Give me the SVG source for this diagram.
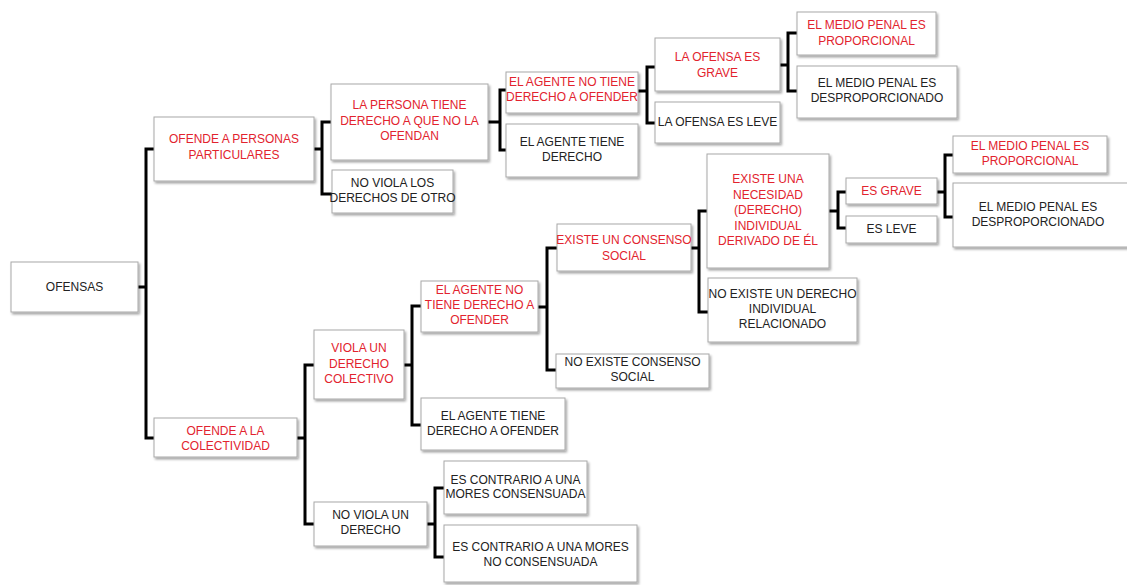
<svg xmlns="http://www.w3.org/2000/svg" width="1127" height="585" viewBox="0 0 1127 585">
<style>
.b{fill:#fff;stroke:#a8a8a8;stroke-width:1;filter:url(#sh)}
text{font-family:"Liberation Sans",Arial,sans-serif;font-size:12px;text-anchor:middle;fill:#222}
.r{fill:#e2232e}
.c{fill:none;stroke:#000;stroke-width:3;stroke-linejoin:miter;stroke-linecap:butt}
</style>
<defs>
<filter id="sh" x="-10%" y="-10%" width="130%" height="140%">
<feDropShadow dx="1.5" dy="2" stdDeviation="1.2" flood-color="#000" flood-opacity="0.35"/>
</filter>
</defs>
<rect width="1127" height="585" fill="#fff"/>
<g id="connectors">
<path class="c" d="M138,287H146M154,149H146V438H154"/>
<path class="c" d="M314,149H322M331,122H322V194H332"/>
<path class="c" d="M488,122H500M506,90H500V150H506"/>
<path class="c" d="M638,91H647M655,67H647V123H655"/>
<path class="c" d="M780,65H788M797,33H788V91H797"/>
<path class="c" d="M297,438H305M314,365H305V524H314"/>
<path class="c" d="M404,365H412M421,306H412V425H421"/>
<path class="c" d="M538,307H547M557,248H547V370H556"/>
<path class="c" d="M691,248H699M707,211H699V312H708"/>
<path class="c" d="M829,211H838M846,192H838V228H846"/>
<path class="c" d="M937,192H945M953,155H945V217H953"/>
<path class="c" d="M427,524H435M444,488H435V557H444"/>
</g>
<g id="n-ofensas"><rect class="b" x="11" y="262" width="127" height="50"/><text x="74.5" y="291">OFENSAS</text></g>
<g id="n-personas"><rect class="b" x="154" y="117" width="160" height="64"/><text class="r" x="234" y="143">OFENDE A PERSONAS</text><text class="r" x="234" y="159">PARTICULARES</text></g>
<g id="n-persona-tiene"><rect class="b" x="331" y="84" width="157" height="76"/><text class="r" x="409.5" y="109">LA PERSONA TIENE</text><text class="r" x="409.5" y="125">DERECHO A QUE NO LA</text><text class="r" x="409.5" y="140">OFENDAN</text></g>
<g id="n-no-viola-los"><rect class="b" x="332" y="170" width="121" height="43"/><text x="392.5" y="187">NO VIOLA LOS</text><text x="392.5" y="202">DERECHOS DE OTRO</text></g>
<g id="n-agente-no-1"><rect class="b" x="506" y="72" width="132" height="41"/><text class="r" x="572" y="86">EL AGENTE NO TIENE</text><text class="r" x="572" y="101">DERECHO A OFENDER</text></g>
<g id="n-agente-tiene-1"><rect class="b" x="506" y="124" width="132" height="53"/><text x="572" y="146">EL AGENTE TIENE</text><text x="572" y="161">DERECHO</text></g>
<g id="n-ofensa-grave"><rect class="b" x="655" y="38" width="125" height="53"/><text class="r" x="717.5" y="61">LA OFENSA ES</text><text class="r" x="717.5" y="77">GRAVE</text></g>
<g id="n-ofensa-leve"><rect class="b" x="655" y="102" width="125" height="41"/><text x="717.5" y="126">LA OFENSA ES LEVE</text></g>
<g id="n-prop-1"><rect class="b" x="797" y="12" width="139" height="43"/><text class="r" x="866.5" y="29">EL MEDIO PENAL ES</text><text class="r" x="866.5" y="45">PROPORCIONAL</text></g>
<g id="n-desprop-1"><rect class="b" x="797" y="66" width="160" height="52"/><text x="877" y="87">EL MEDIO PENAL ES</text><text x="877" y="102">DESPROPORCIONADO</text></g>
<g id="n-colectividad"><rect class="b" x="154" y="418" width="143" height="39"/><text class="r" x="225.5" y="435">OFENDE A LA</text><text class="r" x="225.5" y="450">COLECTIVIDAD</text></g>
<g id="n-viola-colectivo"><rect class="b" x="314" y="330" width="90" height="69"/><text class="r" x="359" y="352">VIOLA UN</text><text class="r" x="359" y="368">DERECHO</text><text class="r" x="359" y="383">COLECTIVO</text></g>
<g id="n-no-viola-un"><rect class="b" x="314" y="502" width="113" height="44"/><text x="370.5" y="519">NO VIOLA UN</text><text x="370.5" y="534">DERECHO</text></g>
<g id="n-agente-no-2"><rect class="b" x="421" y="281" width="117" height="51"/><text class="r" x="479.5" y="294">EL AGENTE NO</text><text class="r" x="479.5" y="309">TIENE DERECHO A</text><text class="r" x="479.5" y="324">OFENDER</text></g>
<g id="n-agente-tiene-2"><rect class="b" x="421" y="398" width="144" height="52"/><text x="493" y="420">EL AGENTE TIENE</text><text x="493" y="435">DERECHO A OFENDER</text></g>
<g id="n-consenso"><rect class="b" x="557" y="224" width="134" height="47"/><text class="r" x="624" y="244">EXISTE UN CONSENSO</text><text class="r" x="624" y="260">SOCIAL</text></g>
<g id="n-no-consenso"><rect class="b" x="556" y="354" width="153" height="34"/><text x="632.5" y="366">NO EXISTE CONSENSO</text><text x="632.5" y="381">SOCIAL</text></g>
<g id="n-necesidad"><rect class="b" x="707" y="154" width="122" height="114"/><text class="r" x="768" y="183">EXISTE UNA</text><text class="r" x="768" y="198.5">NECESIDAD</text><text class="r" x="768" y="214">(DERECHO)</text><text class="r" x="768" y="229.5">INDIVIDUAL</text><text class="r" x="768" y="245">DERIVADO DE ÉL</text></g>
<g id="n-no-derecho-ind"><rect class="b" x="708" y="278" width="149" height="64"/><text x="782.5" y="298">NO EXISTE UN DERECHO</text><text x="782.5" y="313">INDIVIDUAL</text><text x="782.5" y="328">RELACIONADO</text></g>
<g id="n-es-grave"><rect class="b" x="846" y="178" width="91" height="26"/><text class="r" x="891.5" y="195">ES GRAVE</text></g>
<g id="n-es-leve"><rect class="b" x="846" y="216" width="91" height="27"/><text x="891.5" y="233">ES LEVE</text></g>
<g id="n-prop-2"><rect class="b" x="953" y="136" width="154" height="37"/><text class="r" x="1030" y="150">EL MEDIO PENAL ES</text><text class="r" x="1030" y="165">PROPORCIONAL</text></g>
<g id="n-desprop-2"><rect class="b" x="953" y="183" width="180" height="64"/><text x="1038" y="211">EL MEDIO PENAL ES</text><text x="1038" y="226">DESPROPORCIONADO</text></g>
<g id="n-mores-cons"><rect class="b" x="444" y="461" width="143" height="53"/><text x="515.5" y="484">ES CONTRARIO A UNA</text><text x="515.5" y="498">MORES CONSENSUADA</text></g>
<g id="n-mores-no-cons"><rect class="b" x="444" y="525" width="193" height="57"/><text x="540.5" y="551">ES CONTRARIO A UNA MORES</text><text x="540.5" y="566">NO CONSENSUADA</text></g>
</svg>
